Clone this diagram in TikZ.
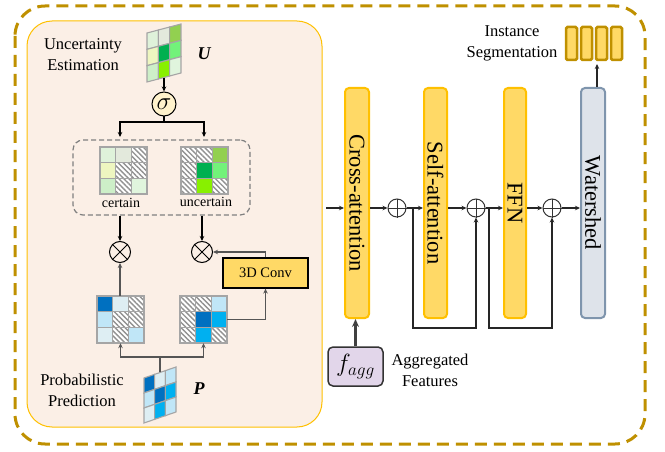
\documentclass[tikz,border=0pt]{standalone}
\usepackage{fontspec}
\setmainfont{Liberation Serif}
\usetikzlibrary{arrows.meta,patterns.meta,calc}
\definecolor{gold}{RGB}{191,144,0}
\definecolor{peach}{RGB}{251,239,230}
\definecolor{amber}{RGB}{255,192,0}
\definecolor{barfill}{RGB}{255,217,102}
\definecolor{wsfill}{RGB}{222,227,234}
\definecolor{wsdraw}{RGB}{127,149,173}
\definecolor{lav}{RGB}{226,214,234}
\definecolor{sigfill}{RGB}{255,242,204}
\definecolor{gridgray}{RGB}{165,165,165}
\definecolor{hatchgray}{RGB}{145,145,145}
\definecolor{darkg}{RGB}{85,85,85}
\definecolor{ga}{HTML}{DFF2DA}
\definecolor{gb}{HTML}{E3E9DC}
\definecolor{gc}{HTML}{92D050}
\definecolor{gd}{HTML}{EEF6C0}
\definecolor{ge}{HTML}{00B050}
\definecolor{gf}{HTML}{72F27A}
\definecolor{gg}{HTML}{CDEFC8}
\definecolor{gh}{HTML}{88F000}
\definecolor{gi}{HTML}{E0F5DD}
\definecolor{ba}{HTML}{0070C0}
\definecolor{bb}{HTML}{DEEEF3}
\definecolor{bc}{HTML}{C0E6F7}
\definecolor{bd}{HTML}{00B0F0}
\def\Hmark{H}
\newcommand\mygrid[6]{%
  \foreach \c [count=\i from 0] in {#6}{%
    \pgfmathtruncatemacro\rr{\i/3}%
    \pgfmathtruncatemacro\cc{\i-3*\rr}%
    \pgfmathsetmacro\xa{#1+\cc*#3}%
    \pgfmathsetmacro\ya{#2+\rr*#4-\cc*#5}%
    \ifx\c\Hmark
      \path[fill=white] (\xa,\ya) -- ++(#3,-#5) -- ++(0,#4) -- ++(-#3,#5) -- cycle;
      \path[pattern={Lines[angle=-45,distance=3.6pt,line width=1.4pt]},pattern color=hatchgray] (\xa,\ya) -- ++(#3,-#5) -- ++(0,#4) -- ++(-#3,#5) -- cycle;
    \else
      \path[fill=\c] (\xa,\ya) -- ++(#3,-#5) -- ++(0,#4) -- ++(-#3,#5) -- cycle;
    \fi
    \draw[gridgray, line width=1.1] (\xa,\ya) -- ++(#3,-#5) -- ++(0,#4) -- ++(-#3,#5) -- cycle;
  }}
\begin{document}
\begin{tikzpicture}[x=1pt,y=-1pt,
  lbl/.style={font=\fontsize{16.5}{21}\selectfont, align=center, inner sep=0},
  small/.style={font=\fontsize{14}{16}\selectfont, inner sep=0},
  bi/.style={font=\fontsize{18}{18}\selectfont\bfseries\itshape, inner sep=0},
  gbox/.style={inner sep=0, minimum size=47},
  opnode/.style={circle, draw, line width=1, minimum size=21, inner sep=0},
  plusnode/.style={circle, draw=black!80, line width=1, minimum size=18, inner sep=0},
  arrB/.style={black, line width=1.1, -{Stealth[length=5pt,width=4.5pt]}},
  arrG/.style={darkg, line width=1.2, -{Stealth[length=5pt,width=4.5pt]}},
  arrK/.style={black!85, line width=1.1, -{Stealth[length=5pt,width=4.5pt]}},
  barbox/.style={draw=amber, fill=barfill, line width=2, rounded corners=4, minimum width=24, minimum height=230, inner sep=0},
  bartext/.style={rotate=-90, font=\fontsize{22.5}{22.5}\selectfont, inner sep=0},
  icon/.style={draw=gold, fill=barfill, line width=2.5, rounded corners=1.5, minimum width=11, minimum height=33, inner sep=0}
]
\useasboundingbox (0,0) rectangle (665,452);
% outer dashed frame
\draw[gold, line width=3, dash pattern=on 12pt off 7pt, rounded corners=30] (15,6) rectangle (645,444);
% left panel
\draw[amber, fill=peach, line width=1, rounded corners=25] (27,21) rectangle (322,427);

% uncertainty estimation
\node[lbl] (ue) at (83,55) {Uncertainty\\Estimation};
\mygrid{147}{33}{11.33}{16.33}{3}{ga,gb,gc,gd,ge,gf,gg,gh,gi}
\coordinate (Ubot) at (164,78);
\node[bi] (Ulab) at (204,54) {U};
\node[circle, draw, fill=sigfill, line width=1, minimum size=24, inner sep=0] (sig) at (164,104) {\fontsize{23}{23}\selectfont$\sigma$};
\draw[arrB] (Ubot) -- (sig.north);
\coordinate (split) at (164,122);
\coordinate (ct) at (120,137);
\coordinate (ut) at (204,137);
\draw[black, line width=1.1] (sig.south) -- (split);
\draw[arrB] (split) -| (ct);
\draw[arrB] (split) -| (ut);

% dashed group
\node[draw=gray, line width=1.2, dash pattern=on 5pt off 3pt, rounded corners=10, minimum width=177, minimum height=75, inner sep=0] (dbox) at (161.5,177.5) {};
\mygrid{100}{147}{15.67}{15.67}{0}{ga,gb,H,gd,H,H,gg,H,gi}
\node[gbox] (cert) at (123.5,170.5) {};
\mygrid{181}{147}{15.67}{15.67}{0}{H,H,gc,H,ge,gf,H,gh,H}
\node[gbox] (unc) at (204.5,170.5) {};
\node[small] (certl) at (121,203) {certain};
\node[small] (uncl) at (206,202) {uncertain};

% multiplications
\node[opnode] (o1) at (120,252) {};
\node[opnode] (o2) at (202,252) {};
\draw[line width=1] (o1.45) -- (o1.225) (o1.135) -- (o1.315);
\draw[line width=1] (o2.45) -- (o2.225) (o2.135) -- (o2.315);
\draw[arrB] (dbox.south -| o1) -- (o1.north);
\draw[arrB] (dbox.south -| o2) -- (o2.north);

% 3D conv
\node[draw, fill=barfill, line width=1.2, minimum width=85, minimum height=30, inner sep=0, font=\fontsize{14.5}{16}\selectfont] (conv) at (265.5,273) {3D Conv};
\draw[arrG] (conv.north) |- (o2.east);

% probability grids
\mygrid{97}{296}{15.67}{15.67}{0}{ba,bb,H,bc,H,H,bb,H,bc}
\node[gbox] (pc) at (120.5,319.5) {};
\mygrid{180}{296}{15.67}{15.67}{0}{H,H,bc,H,ba,bd,H,bd,H}
\node[gbox] (pu) at (203.5,319.5) {};
\draw[arrG] (pc.north -| o1) -- (o1.south);
\draw[arrG] (pu.east) -| (conv.south);

% P
\mygrid{144}{378}{10.67}{15}{3.67}{ba,bb,bc,bc,ba,bd,bb,bd,bc}
\coordinate (Ptop) at (160,372);
\coordinate (Psplit) at (160,357);
\draw[darkg, line width=1.2] (Ptop) -- (Psplit);
\draw[arrG] (Psplit) -| (pc.south);
\draw[arrG] (Psplit) -| (pu.south);
\node[bi] (Plab) at (199,389) {P};
\node[lbl] (pp) at (82,390) {Probabilistic\\Prediction};

% right part: bars
\node[barbox] (ca) at (357,203) {};
\node[bartext] at (ca.center) {Cross-attention};
\node[barbox, minimum width=23] (sa) at (435.5,203) {};
\node[bartext] at (sa.center) {Self-attention};
\node[barbox, minimum width=22] (ffn) at (515,203) {};
\node[bartext] at (ffn.center) {FFN};
\node[barbox, draw=wsdraw, fill=wsfill] (ws) at (593,203) {};
\node[bartext] at (ws.center) {Watershed};

% adders
\node[plusnode] (p1) at (397,208) {};
\node[plusnode] (p2) at (476,208) {};
\node[plusnode] (p3) at (552,208) {};
\foreach \p in {p1,p2,p3}{\draw[black!80, line width=1] (\p.north) -- (\p.south) (\p.east) -- (\p.west);}

\coordinate (in) at (326,208);
\draw[arrK] (in) -- (in -| ca.west);
\draw[arrK] (ca.east |- p1) -- (p1.west);
\draw[arrK] (p1.east) -- (p1 -| sa.west);
\draw[arrK] (sa.east |- p2) -- (p2.west);
\draw[arrK] (p2.east) -- (p2 -| ffn.west);
\draw[arrK] (ffn.east |- p3) -- (p3.west);
\draw[arrK] (p3.east) -- (p3 -| ws.west);
\coordinate (r1) at (413,208);
\coordinate (r2) at (489,208);
\draw[arrK] (r1) -- ++(0,120) -| (p2.south);
\draw[arrK] (r2) -- ++(0,120) -| (p3.south);

% instance segmentation
\node[icon] (s1) at (571.5,43.5) {};
\node[icon] (s2) at (586.5,43.5) {};
\node[icon] (s3) at (601.5,43.5) {};
\node[icon] (s4) at (616.5,43.5) {};
\coordinate (segin) at (597,64);
\draw[arrK] (ws.north -| segin) -- (segin);
\node[lbl] (isl) at (512,43) {Instance\\Segmentation};

% aggregated features
\node[draw=black!80, fill=lav, line width=1.5, rounded corners=5, minimum width=55, minimum height=39, inner sep=0] (fa) at (355.5,366.5) {\fontsize{27}{27}\selectfont$f_{agg}$};
\draw[black!75, line width=2.5, -{Stealth[length=8pt,width=7pt]}] (fa.north) -- (fa.north |- ca.south);
\node[lbl] (afl) at (430,370) {Aggregated\\Features};
\end{tikzpicture}
\end{document}
